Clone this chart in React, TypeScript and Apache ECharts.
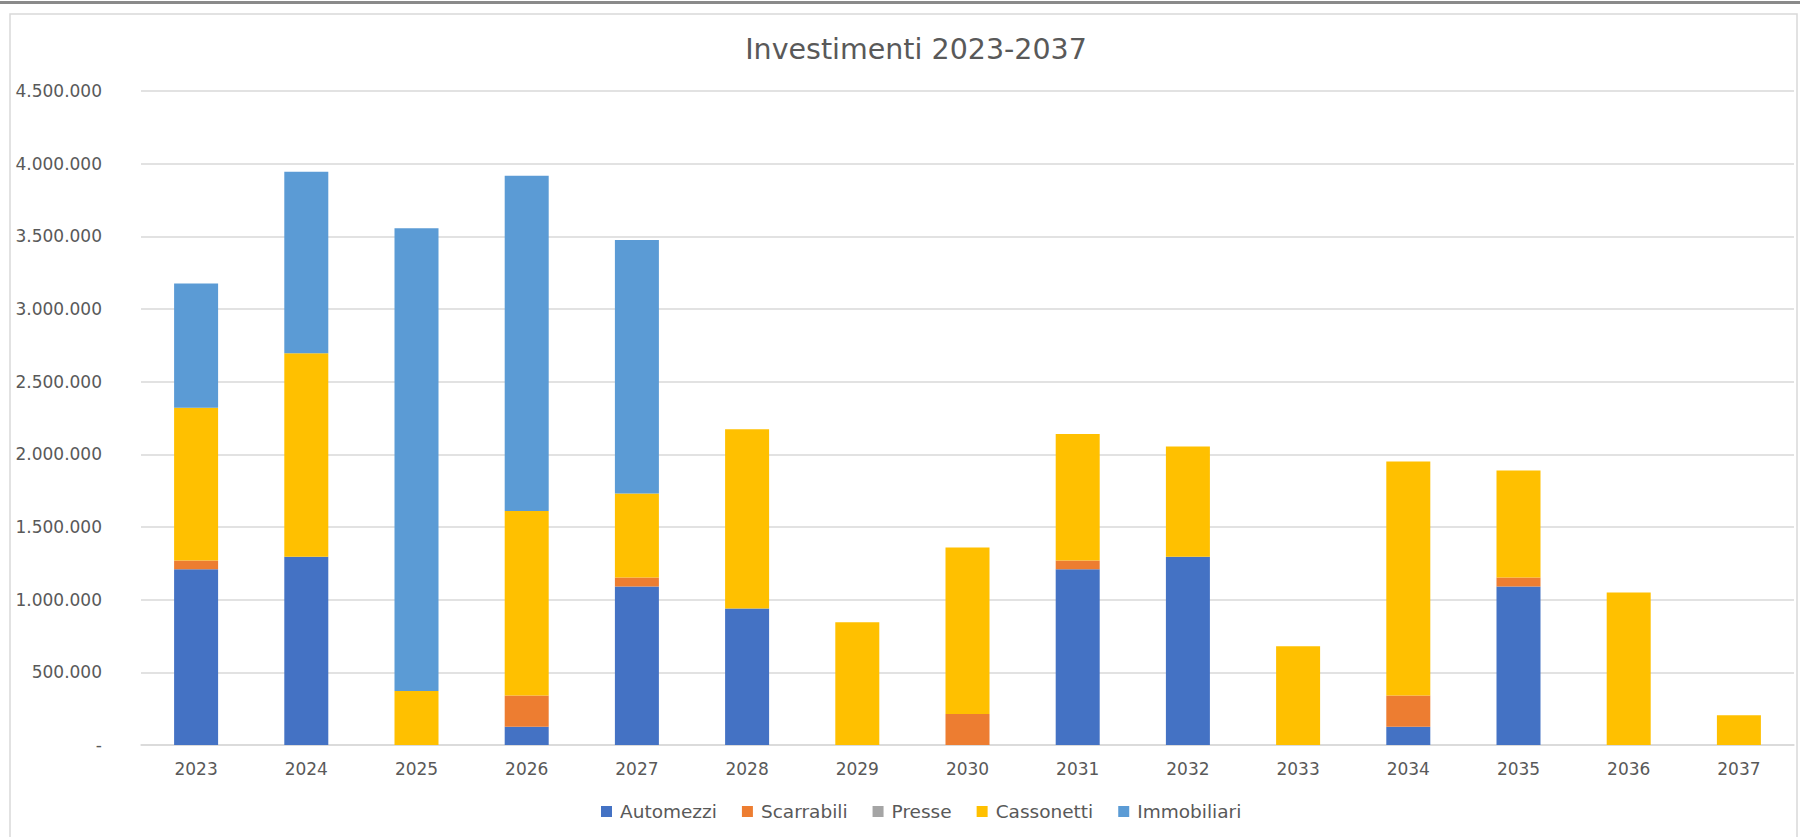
import React, { useEffect, useRef } from "react";
import * as echarts from "echarts";

const years = ["2023","2024","2025","2026","2027","2028","2029","2030","2031","2032","2033","2034","2035","2036","2037"];
const automezzi = [1210000,1295000,0,126000,1090000,940000,0,0,1210000,1295000,0,126000,1090000,0,0];
const scarrabili = [60000,0,0,214000,63000,0,0,213000,60000,0,0,214000,63000,0,0];
const presse = [0,0,0,0,0,0,0,0,0,0,0,0,0,0,0];
const cassonetti = [1050000,1400000,371000,1270000,577000,1232000,845000,1146000,870000,759000,679000,1611000,735000,1050000,205000];
const immobiliari = [855000,1250000,3185000,2307000,1745000,0,0,0,0,0,0,0,0,0,0];

const seriesNames = ["Automezzi","Scarrabili","Presse","Cassonetti","Immobiliari"];
const seriesData = [automezzi, scarrabili, presse, cassonetti, immobiliari];
const colors = ["#4472C4","#ED7D31","#A5A5A5","#FFC000","#5B9BD5"];

const FONT = "'DejaVu Sans', sans-serif";

function fmt(v: number): string {
  if (v === 0) return "-";
  return String(Math.round(v)).replace(/\B(?=(\d{3})+(?!\d))/g, ".");
}

export default function App() {
  const ref = useRef<HTMLDivElement>(null);
  useEffect(() => {
    if (!ref.current) return;
    const chart = echarts.init(ref.current, null, { renderer: "svg" });
    chart.setOption({
      animation: false,
      backgroundColor: "#ffffff",
      color: colors,
      title: {
        text: "Investimenti 2023-2037",
        left: 911,
        textAlign: "center",
        top: 30,
        textStyle: { fontFamily: FONT, fontSize: 28.5, fontWeight: "normal", color: "#595959" },
      },
      legend: {
        bottom: 11,
        left: 596,
        data: seriesNames,
        icon: "rect",
        itemWidth: 11,
        itemHeight: 11,
        itemGap: 25,
        textStyle: { fontFamily: FONT, fontSize: 18.5, color: "#595959", padding: [0, 0, 0, 3] },
      },
      grid: { left: 141, right: 6, top: 91, bottom: 92, containLabel: false },
      xAxis: {
        type: "category",
        data: years,
        axisLine: { lineStyle: { color: "#d9d9d9", width: 1.5 } },
        axisTick: { show: false },
        axisLabel: { fontFamily: FONT, fontSize: 17, color: "#595959", margin: 15 },
      },
      yAxis: {
        type: "value",
        min: 0,
        max: 4500000,
        interval: 500000,
        axisLine: { show: false },
        axisTick: { show: false },
        splitLine: { lineStyle: { color: "#d9d9d9", width: 1.5 } },
        axisLabel: { fontFamily: FONT, fontSize: 17, color: "#595959", margin: 39, formatter: fmt },
      },
      series: seriesNames.map((name, i) => ({
        name,
        type: "bar",
        stack: "tot",
        barWidth: 44,
        data: seriesData[i],
        itemStyle: { color: colors[i] },
      })),
      graphic: [
        { type: "rect", shape: { x: 0, y: 1, width: 1800, height: 3 }, style: { fill: "#8a8a8a" }, silent: true },
        { type: "rect", shape: { x: 10, y: 14, width: 1787, height: 840 }, style: { fill: "none", stroke: "#d9d9d9", lineWidth: 1.5 }, silent: true, z: -1 },
      ],
    });
    return () => chart.dispose();
  }, []);
  return <div ref={ref} style={{ position: "fixed", left: 0, top: 0, width: 1800, height: 837 }} />;
}
